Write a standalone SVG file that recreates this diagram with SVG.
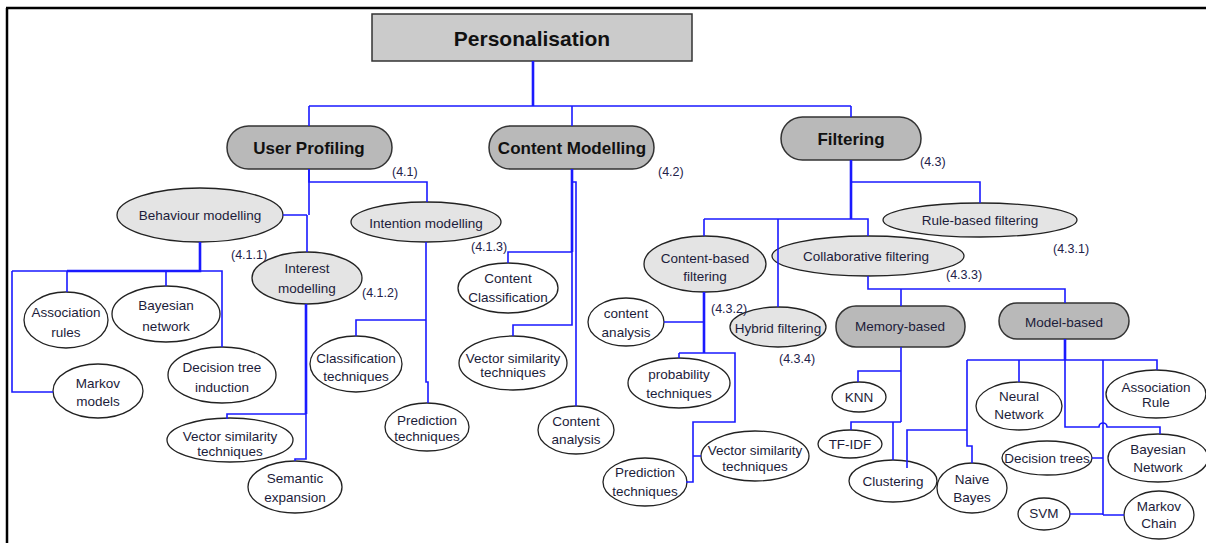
<svg xmlns="http://www.w3.org/2000/svg" width="1206" height="543" viewBox="0 0 1206 543">
  <style>
    .frame { fill: none; stroke: #000; stroke-width: 2.5; }
    .root { fill: #cbcbcb; stroke: #333; stroke-width: 1.5; }
    .pill { fill: #b9b9b9; stroke: #333; stroke-width: 1.5; }
    .mid { fill: #e4e4e4; stroke: #222; stroke-width: 1.3; }
    .leaf { fill: #fff; stroke: #222; stroke-width: 1.3; }
    .lnk { fill: none; stroke: #1a1aff; stroke-width: 1.6; }
    .thick { stroke-width: 2.6; }
    text { font-family: "Liberation Sans", Arial, sans-serif; fill: #1c1c3a; text-anchor: middle; }
    .t-root { font-size: 21px; font-weight: bold; fill: #111; }
    .t-pill { font-size: 17px; font-weight: bold; fill: #111; }
    .t { font-size: 13.5px; }
    .t-s { font-size: 13px; }
    .ref { font-size: 12.5px; text-anchor: start; fill: #22224a; }
  </style>

  <!-- page frame -->
  <path class="frame" d="M6 8 H1206 M7 8 V543"/>

  <!-- nodes -->
  <g id="personalisation">
    <rect class="root" x="372" y="14" width="320" height="47"/>
    <text class="t-root" x="532" y="46">Personalisation</text>
  </g>

  <g id="user-profiling">
    <rect class="pill" x="227" y="126" width="165" height="43" rx="21.5"/>
    <text class="t-pill" x="309" y="154">User Profiling</text>
  </g>
  <g id="content-modelling">
    <rect class="pill" x="489" y="126" width="165" height="43" rx="21.5"/>
    <text class="t-pill" x="572" y="154">Content Modelling</text>
  </g>
  <g id="filtering">
    <rect class="pill" x="781" y="117" width="140" height="43" rx="21.5"/>
    <text class="t-pill" x="851" y="145">Filtering</text>
  </g>

  <g id="behaviour-modelling">
    <ellipse class="mid" cx="200" cy="215" rx="83" ry="27"/>
    <text class="t" x="200" y="220">Behaviour modelling</text>
  </g>
  <g id="interest-modelling">
    <ellipse class="mid" cx="307" cy="278" rx="55" ry="26"/>
    <text class="t" x="307" y="273">Interest</text>
    <text class="t" x="307" y="293">modelling</text>
  </g>
  <g id="intention-modelling">
    <ellipse class="mid" cx="426" cy="222" rx="75" ry="20"/>
    <text class="t" x="426" y="228">Intention modelling</text>
  </g>

  <g id="association-rules">
    <ellipse class="leaf" cx="66" cy="320" rx="42" ry="28"/>
    <text class="t" x="66" y="317">Association</text>
    <text class="t" x="66" y="337">rules</text>
  </g>
  <g id="bayesian-network">
    <ellipse class="leaf" cx="166" cy="314" rx="54" ry="28"/>
    <text class="t" x="166" y="310">Bayesian</text>
    <text class="t" x="166" y="331">network</text>
  </g>
  <g id="decision-tree-induction">
    <ellipse class="leaf" cx="222" cy="375" rx="54" ry="28"/>
    <text class="t" x="222" y="372">Decision tree</text>
    <text class="t" x="222" y="392">induction</text>
  </g>
  <g id="markov-models">
    <ellipse class="leaf" cx="98" cy="391" rx="45" ry="27"/>
    <text class="t" x="98" y="388">Markov</text>
    <text class="t" x="98" y="406">models</text>
  </g>
  <g id="vector-similarity-1">
    <ellipse class="leaf" cx="230" cy="440" rx="63" ry="22"/>
    <text class="t" x="230" y="441">Vector similarity</text>
    <text class="t" x="230" y="456">techniques</text>
  </g>
  <g id="semantic-expansion">
    <ellipse class="leaf" cx="295" cy="487" rx="47" ry="26"/>
    <text class="t" x="295" y="483">Semantic</text>
    <text class="t" x="295" y="502">expansion</text>
  </g>
  <g id="classification-techniques">
    <ellipse class="leaf" cx="356" cy="364" rx="46" ry="28"/>
    <text class="t" x="356" y="363">Classification</text>
    <text class="t" x="356" y="381">techniques</text>
  </g>
  <g id="prediction-techniques-1">
    <ellipse class="leaf" cx="427" cy="427" rx="42" ry="24"/>
    <text class="t" x="427" y="425">Prediction</text>
    <text class="t" x="427" y="441">techniques</text>
  </g>

  <g id="content-classification">
    <ellipse class="leaf" cx="508" cy="288" rx="50" ry="25"/>
    <text class="t" x="508" y="283">Content</text>
    <text class="t" x="508" y="302">Classification</text>
  </g>
  <g id="vector-similarity-2">
    <ellipse class="leaf" cx="513" cy="363" rx="54" ry="27"/>
    <text class="t" x="513" y="363">Vector similarity</text>
    <text class="t" x="513" y="377">techniques</text>
  </g>
  <g id="content-analysis-1">
    <ellipse class="leaf" cx="576" cy="430" rx="38" ry="24"/>
    <text class="t" x="576" y="426">Content</text>
    <text class="t" x="576" y="444">analysis</text>
  </g>

  <g id="rule-based-filtering">
    <ellipse class="mid" cx="980" cy="220" rx="97" ry="17"/>
    <text class="t" x="980" y="225">Rule-based filtering</text>
  </g>
  <g id="content-based-filtering">
    <ellipse class="mid" cx="705" cy="264" rx="61" ry="28"/>
    <text class="t" x="705" y="263">Content-based</text>
    <text class="t" x="705" y="281">filtering</text>
  </g>
  <g id="collaborative-filtering">
    <ellipse class="mid" cx="868" cy="256" rx="96" ry="20"/>
    <text class="t" x="866" y="261">Collaborative filtering</text>
  </g>
  <g id="hybrid-filtering">
    <ellipse class="mid" cx="778" cy="327" rx="48" ry="20"/>
    <text class="t" x="778" y="333">Hybrid filtering</text>
  </g>

  <g id="content-analysis-2">
    <ellipse class="leaf" cx="626" cy="322" rx="38" ry="24"/>
    <text class="t" x="626" y="318">content</text>
    <text class="t" x="626" y="337">analysis</text>
  </g>
  <g id="probability-techniques">
    <ellipse class="leaf" cx="679" cy="383" rx="51" ry="25"/>
    <text class="t" x="679" y="379">probability</text>
    <text class="t" x="679" y="398">techniques</text>
  </g>
  <g id="vector-similarity-3">
    <ellipse class="leaf" cx="755" cy="456" rx="54" ry="25"/>
    <text class="t" x="755" y="455">Vector similarity</text>
    <text class="t" x="755" y="471">techniques</text>
  </g>
  <g id="prediction-techniques-2">
    <ellipse class="leaf" cx="645" cy="482" rx="42" ry="24"/>
    <text class="t" x="645" y="477">Prediction</text>
    <text class="t" x="645" y="496">techniques</text>
  </g>

  <g id="memory-based">
    <rect class="pill" x="836" y="306" width="129" height="41" rx="20"/>
    <text class="t" x="900" y="331">Memory-based</text>
  </g>
  <g id="model-based">
    <rect class="pill" x="999" y="303" width="130" height="36" rx="18"/>
    <text class="t" x="1064" y="327">Model-based</text>
  </g>

  <g id="knn">
    <ellipse class="leaf" cx="859" cy="397" rx="27" ry="15"/>
    <text class="t" x="859" y="402">KNN</text>
  </g>
  <g id="tf-idf">
    <ellipse class="leaf" cx="850" cy="444" rx="32" ry="14"/>
    <text class="t" x="850" y="449">TF-IDF</text>
  </g>
  <g id="clustering">
    <ellipse class="leaf" cx="893" cy="481" rx="44" ry="21"/>
    <text class="t" x="893" y="486">Clustering</text>
  </g>
  <g id="naive-bayes">
    <ellipse class="leaf" cx="972" cy="488" rx="35" ry="25"/>
    <text class="t" x="972" y="484">Naive</text>
    <text class="t" x="972" y="502">Bayes</text>
  </g>
  <g id="neural-network">
    <ellipse class="leaf" cx="1019" cy="406" rx="43" ry="24"/>
    <text class="t" x="1019" y="401">Neural</text>
    <text class="t" x="1019" y="419">Network</text>
  </g>
  <g id="association-rule">
    <ellipse class="leaf" cx="1156" cy="394" rx="50" ry="24"/>
    <text class="t" x="1156" y="392">Association</text>
    <text class="t" x="1156" y="407">Rule</text>
  </g>
  <g id="decision-trees">
    <ellipse class="leaf" cx="1047" cy="458" rx="45" ry="17"/>
    <text class="t" x="1047" y="463">Decision trees</text>
  </g>
  <g id="bayesian-network-2">
    <ellipse class="leaf" cx="1158" cy="458" rx="50" ry="24"/>
    <text class="t" x="1158" y="454">Bayesian</text>
    <text class="t" x="1158" y="472">Network</text>
  </g>
  <g id="svm">
    <ellipse class="leaf" cx="1044" cy="514" rx="26" ry="16"/>
    <text class="t" x="1044" y="518">SVM</text>
  </g>
  <g id="markov-chain">
    <ellipse class="leaf" cx="1159" cy="515" rx="35" ry="24"/>
    <text class="t" x="1159" y="511">Markov</text>
    <text class="t" x="1159" y="528">Chain</text>
  </g>

  <!-- section numbers -->
  <g id="section-refs">
    <text class="ref" x="392" y="176">(4.1)</text>
    <text class="ref" x="658" y="176">(4.2)</text>
    <text class="ref" x="920" y="166">(4.3)</text>
    <text class="ref" x="231" y="259">(4.1.1)</text>
    <text class="ref" x="362" y="297">(4.1.2)</text>
    <text class="ref" x="471" y="251">(4.1.3)</text>
    <text class="ref" x="1053" y="253">(4.3.1)</text>
    <text class="ref" x="711" y="313">(4.3.2)</text>
    <text class="ref" x="946" y="279">(4.3.3)</text>
    <text class="ref" x="779" y="363">(4.3.4)</text>
  </g>

  <!-- connectors -->
  <g id="connectors">
    <!-- root level -->
    <path class="lnk thick" d="M533 61 V106"/>
    <path class="lnk" d="M309 106 H851 M309 106 V126 M572 106 V126 M851 106 V117"/>

    <!-- user profiling -->
    <path class="lnk" d="M309 169 V182 H427 V202"/>
    <path class="lnk" d="M283 215 H307 M309 169 V215 M307 215 V252"/>
    <path class="lnk thick" d="M200 242 V271 H67"/>
    <path class="lnk" d="M12 271 H67 V292 M200 271 H222 V347 M166 271 V286 M12 271 V392 H53"/>
    <path class="lnk thick" d="M306 304 V414"/>
    <path class="lnk" d="M306 414 H227 V419 M306 414 V459 H295 V461"/>
    <path class="lnk" d="M426 242 V382 H428 V403 M426 320 H356 V336"/>

    <!-- content modelling -->
    <path class="lnk thick" d="M572 169 V252"/>
    <path class="lnk" d="M572 252 H508 V263 M572 252 V325 H513 V336 M572 182 H576 V406"/>

    <!-- filtering -->
    <path class="lnk thick" d="M851 160 V219"/>
    <path class="lnk" d="M851 182 H980 V203 M704 219 H868 V236 M704 219 V236 M778 219 V307"/>
    <path class="lnk thick" d="M704 292 V353"/>
    <path class="lnk" d="M664 322 H704 M679 353 H735 V422 H693 V482 H686 M679 353 V358 M693 456 H701"/>

    <!-- collaborative filtering -->
    <path class="lnk" d="M868 276 V289 H1065 V303 M901 289 V306"/>
    <path class="lnk" d="M901 347 V422 M901 371 H858 V382 M901 422 H851 V430 M893 422 V460"/>

    <!-- model-based -->
    <path class="lnk thick" d="M1065 339 V360"/>
    <path class="lnk" d="M1065 360 V427 H1099 a4 4 0 0 1 8 0 H1160 V434"/>
    <path class="lnk" d="M967 360 H1157 V370 M1019 360 V382 M1103 360 V515 M1092 458 H1103 M1070 514 H1103 M1103 515 H1124"/>
    <path class="lnk" d="M967 360 V446 H972 V463 M967 430 H907 V468"/>
  </g>
</svg>
